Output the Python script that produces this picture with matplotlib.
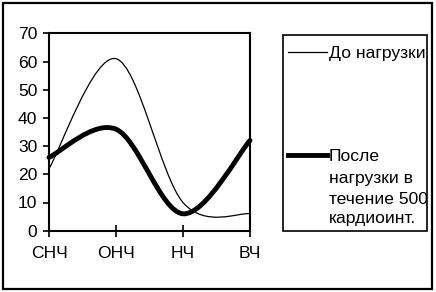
import numpy as np
import matplotlib
matplotlib.use("Agg")
import matplotlib.pyplot as plt
from matplotlib.path import Path
from matplotlib.patches import PathPatch, Rectangle
from matplotlib.lines import Line2D

plt.rcParams["font.family"] = ["Liberation Sans", "DejaVu Sans"]

# data
categories = ["СНЧ", "ОНЧ", "НЧ", "ВЧ"]
before_load = [22, 61, 10, 6]
after_load = [26, 36, 6, 32]
yticks = [0, 10, 20, 30, 40, 50, 60, 70]
label_before = "До нагрузки"
label_after = ["После", "нагрузки в", "течение 500", "кардиоинт."]

W, H = 436, 292
FS = 12.6


def fx(px):
    return px / W


def fy(py):
    return 1 - py / H


def smooth_path(values):
    """Excel-like smoothed line: cubic Bezier through every point"""
    pts = np.column_stack([np.arange(len(values)), values]).astype(float)
    n = len(pts)
    verts = [pts[0]]
    codes = [Path.MOVETO]
    for i in range(n - 1):
        p_prev = pts[max(i - 1, 0)]
        p0, p1 = pts[i], pts[i + 1]
        p_next = pts[min(i + 2, n - 1)]
        c1 = p0 + (p1 - p_prev) / 6
        c2 = p1 - (p_next - p0) / 6
        verts += [c1, c2, p1]
        codes += [Path.CURVE4] * 3
    return Path(verts, codes)


fig = plt.figure(figsize=(W / 100, H / 100), dpi=100)
ax = fig.add_axes([fx(49), fy(230.7), fx(250) - fx(49), (230.7 - 33.3) / H])

ax.add_patch(PathPatch(smooth_path(before_load), fill=False, color="black",
                       lw=0.9, clip_on=False, zorder=3))
ax.add_patch(PathPatch(smooth_path(after_load), fill=False, color="black",
                       lw=3.5, clip_on=False, zorder=4, capstyle="round"))

ax.set_xlim(0, len(categories) - 1)
ax.set_ylim(0, 70)
ax.set_xticks(range(len(categories)))
ax.set_xticklabels(categories)
ax.set_yticks(yticks)
for s in ax.spines.values():
    s.set_linewidth(1.5)
    s.set_color("black")
ax.tick_params(axis="y", direction="out", length=4.5, width=1.2,
               labelsize=FS, pad=4)
ax.tick_params(axis="x", direction="inout", length=9, width=1.2,
               labelsize=FS, pad=6.5)

# outer frame
fig.patches.append(Rectangle((fx(2.5), fy(289)), fx(432) - fx(2.5),
                             fy(2.5) - fy(289), transform=fig.transFigure,
                             fill=False, lw=1.6, ec="black"))

# legend box
lx0, lx1, ly0, ly1 = 283, 427, 35, 231
box = Rectangle((fx(lx0), fy(ly1)), fx(lx1) - fx(lx0), fy(ly0) - fy(ly1),
                transform=fig.transFigure, fill=False, lw=1.2, ec="black")
fig.patches.append(box)

fig.lines.append(Line2D([fx(288), fx(327)], [fy(52), fy(52)],
                        transform=fig.transFigure, color="black", lw=0.9))
fig.lines.append(Line2D([fx(288), fx(327)], [fy(155), fy(155)],
                        transform=fig.transFigure, color="black", lw=3.5))

clip = Rectangle((fx(lx0), fy(ly1)), fx(lx1) - fx(lx0), fy(ly0) - fy(ly1),
                 transform=fig.transFigure)
t = fig.text(fx(329), fy(58), label_before, fontsize=FS, va="baseline")
t.set_clip_path(clip)
for label, by in zip(label_after, [161, 183, 204, 223]):
    t = fig.text(fx(329), fy(by), label, fontsize=FS, va="baseline")
    t.set_clip_path(clip)

fig.savefig("out.png", dpi=100)
